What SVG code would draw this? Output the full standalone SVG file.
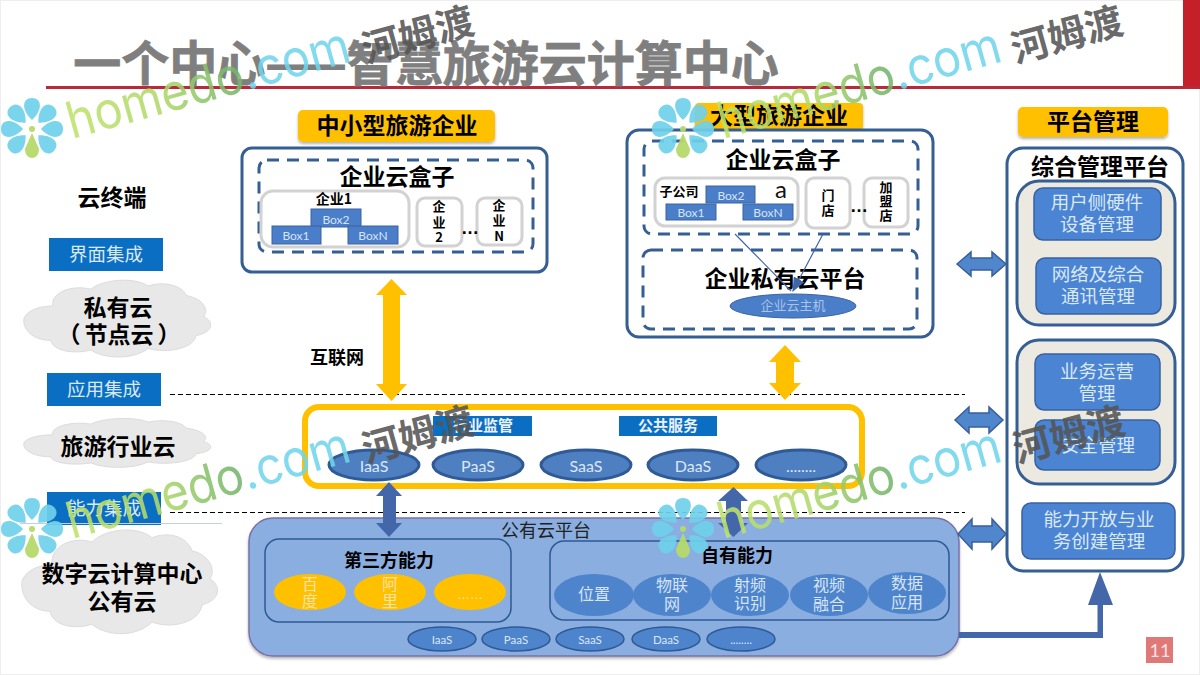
<svg xmlns="http://www.w3.org/2000/svg" width="1200" height="675" viewBox="0 0 1200 675">
<style>
text{font-family:"Noto Sans CJK SC","Liberation Sans",sans-serif;text-anchor:middle;dominant-baseline:central;translate:0 -2px}
.b{font-weight:700;fill:#000}
.b23{font-weight:700;font-size:23px;fill:#000}
.b14{font-weight:700;font-size:13px;fill:#000}
.lab{fill:#0a6fc2}
.frame{fill:#fff;stroke:#355f94;stroke-width:3}
.dash{fill:none;stroke:#355f94;stroke-width:3;stroke-dasharray:12 8}
.gbox{fill:#fff;stroke:#d2d2d2;stroke-width:3}
.bx{fill:#4a7ec9;stroke:#3a62a0;stroke-width:1}
.bt{font-family:"Lato","Liberation Sans",sans-serif;font-size:12px;fill:#d6e4f6;translate:none}
.dots{font-family:"Liberation Sans",sans-serif;font-weight:700;font-size:18px;fill:#000;translate:none}
.gold{fill:#ffc000;filter:url(#sh)}
.arrowg{fill:#ffc000}
.mg{fill:#4a84d2;stroke:#3a62a0;stroke-width:1.5}
.mt{font-size:18.500px;fill:#dbe8f8}
.lt{font-size:18.500px;fill:#dbe9f7}
.grp{fill:#ebe9e0;stroke:#355f94;stroke-width:3}
.dbl{fill:#4f86cc;stroke:#3a5f9a;stroke-width:1.5}
.el{fill:#4e7fc0;stroke:#2f5a96;stroke-width:3}
.el2{fill:#4e84cc;stroke:#2f5a96;stroke-width:1.5}
.elf{fill:#4e84cc}
.elt{font-family:"Lato","Liberation Sans",sans-serif;font-size:16px;fill:#dbe7f5;translate:none}
.elt2{font-family:"Lato","Liberation Sans",sans-serif;font-size:11.500px;fill:#dbe7f5;translate:none}
.yt{font-size:16px;fill:#f7e3a6}
.wt{font-size:16px;fill:#d6e4f6}
.cl{fill:#e8e8e8;stroke:#dcdcdc;stroke-width:1}
.dk{fill:#4467aa}
.home{font-family:"Inter","Open Sans",sans-serif;font-weight:400;font-size:51px;text-anchor:start;dominant-baseline:alphabetic;fill-opacity:.88;translate:none}
.hemu{font-size:38px;font-weight:700;fill:#555;fill-opacity:.88;translate:none}
.pt{fill:#6fd0ea;fill-opacity:.92}
.pg{fill:#b5d96a;fill-opacity:.95}
</style>
<defs>
<filter id="sh" x="-5%" y="-10%" width="110%" height="130%"><feDropShadow dx="0" dy="2" stdDeviation="1.5" flood-color="#000" flood-opacity=".3"/></filter>
<linearGradient id="hg" x1="0" x2="1" y1="0" y2="0"><stop offset="0" stop-color="#bfe26c"/><stop offset=".33" stop-color="#b0d96a"/><stop offset=".6" stop-color="#74b56c"/><stop offset="1" stop-color="#74b56c"/></linearGradient>
<path id="cloud" vector-effect="non-scaling-stroke" d="M0 50C5 38 20 35 30 35C28 18 50 8 70 14C82 2 115-2 130 10C145 4 165 8 170 22C185 25 195 38 188 48C200 55 198 68 180 72C178 88 150 95 130 88C115 102 85 102 70 90C50 96 30 90 28 78C10 78-2 65 0 50Z"/>
<marker id="thin" markerWidth="12" markerHeight="10" refX="11" refY="5" orient="auto"><path d="M0 0L12 5L0 10Z" fill="#3f66a8"/></marker>
<path id="petal" d="M0-9C-11-19-10-31 0-31C10-31 11-19 0-9Z"/>
<g id="flower">
<use href="#petal" class="pt"/>
<use href="#petal" class="pt" transform="rotate(45)"/>
<use href="#petal" class="pt" transform="rotate(90)"/>
<use href="#petal" class="pt" transform="rotate(135)"/>
<use href="#petal" class="pt" transform="rotate(-45)"/>
<use href="#petal" class="pt" transform="rotate(-90)"/>
<use href="#petal" class="pt" transform="rotate(-135)"/>
<path class="pg" d="M0 4L7 20C7 32-7 32-7 20Z"/>
<circle class="pg" cx="0" cy="0" r="3"/>
</g>
</defs>

<rect x="0" y="0" width="1200" height="675" fill="#fff"/>
<rect x="0.5" y="0.5" width="1199" height="674" fill="none" stroke="#eee"/>

<g id="title">
<rect x="1183" y="0" width="17" height="87" fill="#c4202a"/>
<rect x="46" y="86" width="1154" height="3" fill="#b8293a"/>
<text x="426" y="62" font-size="48" font-weight="700" fill="#7f7f7f" stroke="#7f7f7f" stroke-width=".8">一个中心——智慧旅游云计算中心</text>
</g>

<g id="node-left">
<text x="112" y="198" class="b23">云终端</text>
<rect class="lab" x="49" y="238" width="114" height="33"/><text x="106" y="255" class="lt">界面集成</text>
<use href="#cloud" class="cl" transform="translate(24 278) scale(.955 .8)"/>
<text x="118" y="308" class="b23">私有云</text><text x="119" y="335" class="b23">（<tspan dx="4">节点云</tspan><tspan dx="4">）</tspan></text>
<rect class="lab" x="47" y="373" width="114" height="33"/><text x="104" y="390" class="lt">应用集成</text>
<use href="#cloud" class="cl" transform="translate(24 417) scale(.955 .51)"/>
<text x="118" y="447" class="b23">旅游行业云</text>
<rect class="lab" x="47" y="492" width="114" height="33"/><text x="104" y="509" class="lt">能力集成</text>
<use href="#cloud" class="cl" transform="translate(22 527) scale(1 1.08)"/>
<text x="122" y="574" class="b23">数字云计算中心</text><text x="122" y="602" class="b23">公有云</text>
</g>

<g id="node-sme">
<rect class="gold" x="298" y="110" width="197" height="32" rx="5"/>
<text x="397" y="126" class="b23">中小型旅游企业</text>
<rect class="frame" x="242" y="148" width="305" height="124" rx="10"/>
<rect class="dash" x="259" y="160" width="274" height="92" rx="8"/>
<text x="397" y="177" class="b23">企业云盒子</text>
<rect class="gbox" x="261" y="191" width="148" height="56" rx="12"/>
<text x="334" y="200" class="b" font-size="14">企业1</text>
<rect class="bx" x="311" y="209" width="50" height="18"/><text class="bt" x="336" y="219">Box2</text>
<rect class="bx" x="272" y="226" width="49" height="18"/><text class="bt" x="296" y="235">Box1</text>
<rect class="bx" x="348" y="226" width="50" height="18"/><text class="bt" x="373" y="235">BoxN</text>
<rect class="gbox" x="417" y="198" width="45" height="48" rx="8"/>
<text class="b14" x="439" y="207">企</text><text class="b14" x="439" y="223">业</text><text class="b14" x="439" y="238">2</text>
<rect class="gbox" x="477" y="198" width="45" height="47" rx="8"/>
<text class="b14" x="499" y="206">企</text><text class="b14" x="499" y="221">业</text><text class="b14" x="499" y="237">N</text>
<text class="dots" x="470" y="228">…</text>
</g>

<g id="node-large">
<rect class="gold" x="695" y="103" width="168" height="27" rx="4"/>
<text x="779" y="116" class="b23">大型旅游企业</text>
<rect class="frame" x="627" y="130" width="306" height="207" rx="12"/>
<rect class="dash" x="644" y="141" width="274" height="93" rx="8"/>
<text x="783" y="160" class="b23">企业云盒子</text>
<rect class="gbox" x="655" y="178" width="143" height="48" rx="10"/>
<text x="679" y="192" class="b" font-size="13">子公司</text>
<text x="781" y="188" font-size="24" fill="#111" style="font-family:'Lato',sans-serif;translate:none">a</text>
<rect class="bx" x="706" y="186" width="49" height="17"/><text class="bt" x="731" y="195">Box2</text>
<rect class="bx" x="666" y="204" width="50" height="16"/><text class="bt" x="691" y="212">Box1</text>
<rect class="bx" x="743" y="204" width="50" height="16"/><text class="bt" x="768" y="212">BoxN</text>
<rect class="gbox" x="806" y="178" width="44" height="50" rx="8"/>
<text class="b14" x="828" y="196">门</text><text class="b14" x="828" y="211">店</text>
<rect class="gbox" x="864" y="178" width="44" height="49" rx="8"/>
<text class="b14" x="886" y="188">加</text><text class="b14" x="886" y="202">盟</text><text class="b14" x="886" y="216">店</text>
<text class="dots" x="859" y="206">…</text>
<rect class="dash" x="643" y="250" width="274" height="79" rx="8"/>
<ellipse cx="793" cy="306" rx="63" ry="12" fill="#4a7ec9" stroke="#3a62a0"/>
<text x="793" y="306" font-size="13" fill="#a9c4e8">企业云主机</text>
<text x="785" y="279" class="b23">企业私有云平台</text>
</g>

<g id="node-mgmt">
<rect class="gold" x="1018" y="107" width="150" height="30" rx="5"/>
<text x="1093" y="122" class="b23">平台管理</text>
<rect class="frame" x="1007" y="148" width="176" height="423" rx="16"/>
<text x="1100" y="167" class="b23">综合管理平台</text>
<rect class="grp" x="1017" y="181" width="158" height="144" rx="22"/>
<rect class="mg" x="1034" y="188" width="127" height="52" rx="9"/>
<text class="mt" x="1097" y="203">用户侧硬件</text><text class="mt" x="1097" y="225">设备管理</text>
<rect class="mg" x="1036" y="258" width="125" height="56" rx="9"/>
<text class="mt" x="1098" y="275">网络及综合</text><text class="mt" x="1098" y="297">通讯管理</text>
<rect class="grp" x="1017" y="340" width="158" height="144" rx="22"/>
<rect class="mg" x="1035" y="354" width="125" height="56" rx="9"/>
<text class="mt" x="1097" y="372">业务运营</text><text class="mt" x="1097" y="394">管理</text>
<rect class="mg" x="1035" y="420" width="125" height="50" rx="9"/>
<text class="mt" x="1098" y="446">安全管理</text>
<rect class="mg" x="1022" y="503" width="153" height="56" rx="9"/>
<text class="mt" x="1099" y="520">能力开放与业</text><text class="mt" x="1099" y="542">务创建管理</text>
</g>

<g id="node-industry">
<rect x="305" y="407" width="557" height="79" rx="14" fill="none" stroke="#ffc000" stroke-width="6"/>
<rect class="lab" x="433" y="416" width="99" height="20"/><text x="483" y="426" font-size="15" font-weight="700" fill="#eaf2fb">行业监管</text>
<rect class="lab" x="619" y="416" width="98" height="20"/><text x="668" y="426" font-size="15" font-weight="700" fill="#eaf2fb">公共服务</text>
<ellipse class="el" cx="374" cy="465" rx="45" ry="15"/><text class="elt" x="374" y="465">IaaS</text>
<ellipse class="el" cx="478" cy="465" rx="45" ry="15"/><text class="elt" x="478" y="465">PaaS</text>
<ellipse class="el" cx="586" cy="465" rx="45" ry="15"/><text class="elt" x="586" y="465">SaaS</text>
<ellipse class="el" cx="693" cy="465" rx="45" ry="15"/><text class="elt" x="693" y="465">DaaS</text>
<ellipse class="el" cx="801" cy="465" rx="45" ry="15"/><text class="elt" x="801" y="465">........</text>
</g>

<g id="node-public">
<rect x="249" y="518" width="710" height="138" rx="24" fill="#8aaee0" stroke="#7a70a8" stroke-width="1.500" filter="url(#sh)"/>
<text x="546" y="531" font-size="18" fill="#222">公有云平台</text>
<rect x="265" y="539" width="246" height="83" rx="14" fill="none" stroke="#2f5a96" stroke-width="1.500"/>
<rect x="550" y="541" width="399" height="79" rx="14" fill="none" stroke="#2f5a96" stroke-width="1.500"/>
<text x="389" y="561" class="b" font-size="18">第三方能力</text>
<text x="737" y="556" class="b" font-size="18">自有能力</text>
<ellipse cx="310" cy="592" rx="36" ry="18" fill="#ffc000"/><text class="yt" x="310" y="585">百</text><text class="yt" x="310" y="602">度</text>
<ellipse cx="390" cy="592" rx="36" ry="18" fill="#ffc000"/><text class="yt" x="390" y="585">阿</text><text class="yt" x="390" y="602">里</text>
<ellipse cx="470" cy="592" rx="36" ry="18" fill="#ffc000"/><text x="470" y="594" font-size="13" fill="#f7e3a6" style="font-family:'Liberation Sans',sans-serif;translate:none">……</text>
<ellipse class="elf" cx="594" cy="595" rx="40" ry="21"/><text class="wt" x="594" y="595">位置</text>
<ellipse class="elf" cx="672" cy="595" rx="39" ry="21"/><text class="wt" x="672" y="586">物联</text><text class="wt" x="672" y="605">网</text>
<ellipse class="elf" cx="750" cy="595" rx="39" ry="21"/><text class="wt" x="750" y="586">射频</text><text class="wt" x="750" y="604">识别</text>
<ellipse class="elf" cx="829" cy="595" rx="39" ry="21"/><text class="wt" x="829" y="586">视频</text><text class="wt" x="829" y="605">融合</text>
<ellipse class="elf" cx="907" cy="593" rx="39" ry="21"/><text class="wt" x="907" y="584">数据</text><text class="wt" x="907" y="603">应用</text>
<ellipse class="el2" cx="442" cy="639" rx="34" ry="12"/><text class="elt2" x="442" y="639">IaaS</text>
<ellipse class="el2" cx="516" cy="639" rx="34" ry="12"/><text class="elt2" x="516" y="639">PaaS</text>
<ellipse class="el2" cx="590" cy="639" rx="34" ry="12"/><text class="elt2" x="590" y="639">SaaS</text>
<ellipse class="el2" cx="666" cy="639" rx="34" ry="12"/><text class="elt2" x="666" y="639">DaaS</text>
<ellipse class="el2" cx="741" cy="639" rx="34" ry="12"/><text class="elt2" x="741" y="639">........</text>
</g>

<g id="connectors">
<path d="M170 394.500H965M170 512.500H965" stroke="#000" stroke-width="1" stroke-dasharray="5 3" fill="none"/>
<path d="M20 523.500H222" stroke="#c5d0dc" stroke-width="1" fill="none"/>
<path class="arrowg" d="M391.500 279L407 295H400V384H407L391.500 401L376 384H383V295H376Z"/>
<path class="arrowg" d="M785 345L801 362H794V383H801L785 400L769 383H776V362H769Z"/>
<path d="M735 234L791 291M823 234L793 291" stroke="#3f66a8" stroke-width="1.200" fill="none" marker-end="url(#thin)"/>
<path class="dbl" d="M957 264L971 252V258H992V252L1006 264L992 276V270H971V276Z"/>
<path class="dbl" d="M955 420L969 407V413H989V407L1003 420L989 433V427H969V433Z"/>
<path class="dbl" d="M958 534L972 519V526H992V519L1006 534L992 549V542H972V549Z"/>
<path class="dk" d="M389 482L402 496H396V523H402L389 537L376 523H383V496H376Z"/>
<path class="dk" d="M733.500 487L748 501H741V523H748L733.500 537L718 523H726V501H718Z"/>
<path class="dk" d="M959 632H1097.500V605H1088L1100 572L1113 605H1103V638H959Z"/>
</g>

<g id="labels">
<text x="337" y="358" class="b" font-size="18">互联网</text>
<rect x="1146" y="637" width="27" height="26" fill="#e07878"/>
<text x="1160" y="650" font-size="18" fill="#f7e4e4" style="font-family:'Lato',sans-serif;translate:none">11</text>
</g>

<g id="watermark-1">
<use href="#flower" transform="translate(32 129)"/>
<text class="home" transform="translate(72 139) rotate(-15.500)" textLength="292" lengthAdjust="spacingAndGlyphs"><tspan fill="url(#hg)">homedo</tspan><tspan fill="#6fd5ea">.com</tspan></text>
<text class="hemu" transform="translate(417 32) rotate(-15.500)">河姆渡</text>
</g>
<g id="watermark-2">
<use href="#flower" transform="translate(683 129)"/>
<text class="home" transform="translate(723 139) rotate(-15.500)" textLength="292" lengthAdjust="spacingAndGlyphs"><tspan fill="url(#hg)">homedo</tspan><tspan fill="#6fd5ea">.com</tspan></text>
<text class="hemu" transform="translate(1066 32) rotate(-15.500)">河姆渡</text>
</g>
<g id="watermark-3">
<use href="#flower" transform="translate(32 529)"/>
<text class="home" transform="translate(72 539) rotate(-15.500)" textLength="292" lengthAdjust="spacingAndGlyphs"><tspan fill="url(#hg)">homedo</tspan><tspan fill="#6fd5ea">.com</tspan></text>
<text class="hemu" transform="translate(417 432) rotate(-15.500)">河姆渡</text>
</g>
<g id="watermark-4">
<use href="#flower" transform="translate(683 529)"/>
<text class="home" transform="translate(723 539) rotate(-15.500)" textLength="292" lengthAdjust="spacingAndGlyphs"><tspan fill="url(#hg)">homedo</tspan><tspan fill="#6fd5ea">.com</tspan></text>
<text class="hemu" transform="translate(1068 432) rotate(-15.500)">河姆渡</text>
</g>
</svg>
